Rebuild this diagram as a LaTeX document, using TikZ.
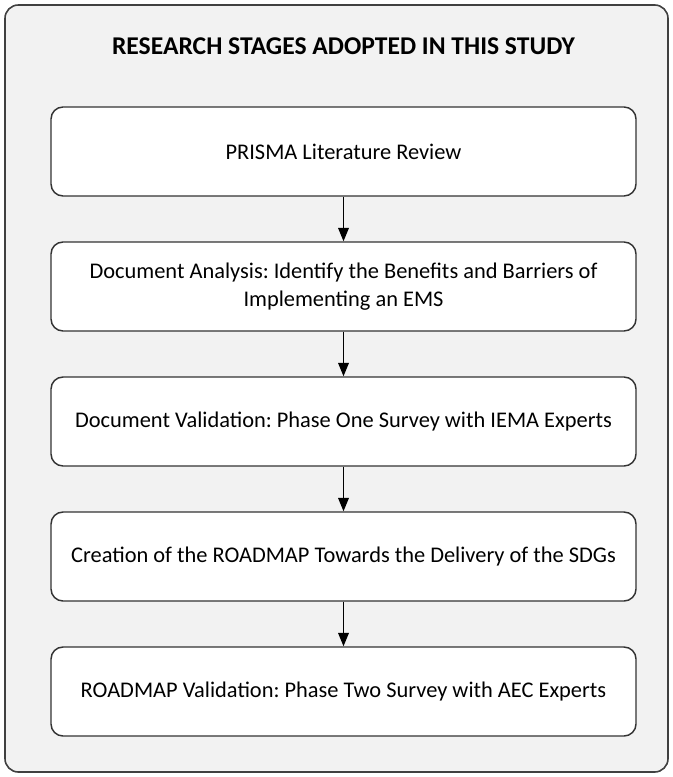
\documentclass[tikz,border=0pt]{standalone}
\usepackage{fontspec}
\setmainfont{Carlito}
\frenchspacing
\usetikzlibrary{arrows.meta}
\begin{document}
\begin{tikzpicture}[x=0.75pt,y=-0.75pt,
  outer/.style={draw=black!75,line width=1.2pt,fill=black!5,rounded corners=10pt},
  stage/.style={draw=black!80,line width=1.1pt,fill=white,rounded corners=9pt,
    minimum width=585*0.75pt,minimum height=89*0.75pt,align=center,
    font=\fontsize{16.8pt}{21pt}\selectfont},
  flow/.style={-{Triangle[length=10pt,width=8pt]},line width=0.9pt,black}]
\useasboundingbox (0,0) rectangle (672,777);
\draw[outer] (5,5) rectangle (668,772);
\node[font=\bfseries\fontsize{19.2pt}{22pt}\selectfont] (title) at (343.5,46) {RESEARCH STAGES ADOPTED IN THIS STUDY};
\node[stage] (s1) at (343.5,151.5) {PRISMA Literature Review};
\node[stage] (s2) at (343.5,286.5) {Document Analysis: Identify the Benefits and Barriers of\\Implementing an EMS};
\node[stage] (s3) at (343.5,421.5) {Document Validation: Phase One Survey with IEMA Experts};
\node[stage] (s4) at (343.5,556.5) {Creation of the ROADMAP Towards the Delivery of the SDGs};
\node[stage] (s5) at (343.5,691.5) {ROADMAP Validation: Phase Two Survey with AEC Experts};
\draw[flow] (s1) -- (s2);
\draw[flow] (s2) -- (s3);
\draw[flow] (s3) -- (s4);
\draw[flow] (s4) -- (s5);
\end{tikzpicture}
\end{document}
